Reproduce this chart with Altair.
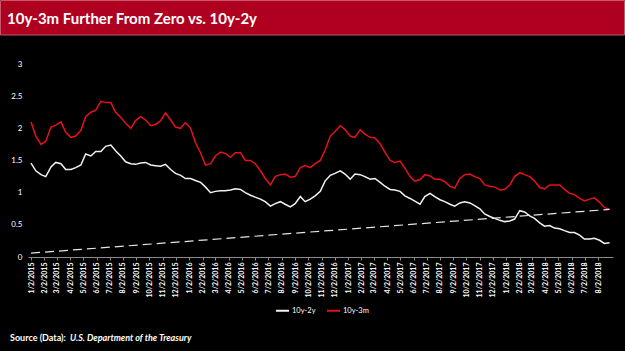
import altair as alt
import pandas as pd

# ---------------- data ----------------
series_names = ["10y-2y", "10y-3m"]

spread_10y2y = [1.46, 1.34, 1.28, 1.25, 1.40, 1.47, 1.45, 1.36, 1.36, 1.39,
                1.43, 1.60, 1.57, 1.64, 1.64, 1.72, 1.74, 1.65, 1.57, 1.48,
                1.45, 1.44, 1.46, 1.47, 1.43, 1.42, 1.41, 1.44, 1.36, 1.30,
                1.27, 1.22, 1.22, 1.19, 1.16, 1.09, 1.00, 1.02, 1.03, 1.03,
                1.04, 1.06, 1.05, 1.00, 0.96, 0.93, 0.90, 0.86, 0.79, 0.83,
                0.86, 0.82, 0.78, 0.83, 0.94, 0.86, 0.90, 0.95, 1.02, 1.18,
                1.27, 1.30, 1.34, 1.29, 1.21, 1.29, 1.28, 1.25, 1.21, 1.22,
                1.16, 1.10, 1.05, 1.04, 1.02, 0.95, 0.91, 0.87, 0.82, 0.94,
                0.99, 0.94, 0.89, 0.86, 0.82, 0.79, 0.84, 0.86, 0.84, 0.80,
                0.75, 0.67, 0.63, 0.60, 0.57, 0.55, 0.56, 0.59, 0.72, 0.70,
                0.64, 0.60, 0.53, 0.48, 0.49, 0.45, 0.44, 0.41, 0.38, 0.38,
                0.34, 0.28, 0.28, 0.29, 0.26, 0.21, 0.22]

spread_10y3m = [2.10, 1.88, 1.75, 1.80, 2.02, 2.05, 2.10, 1.94, 1.86, 1.88,
                1.97, 2.18, 2.25, 2.28, 2.42, 2.40, 2.40, 2.25, 2.17, 2.08,
                2.00, 2.12, 2.18, 2.13, 2.04, 2.06, 2.12, 2.24, 2.13, 2.02,
                2.00, 2.09, 2.00, 1.78, 1.62, 1.43, 1.45, 1.57, 1.63, 1.61,
                1.55, 1.62, 1.62, 1.50, 1.50, 1.45, 1.34, 1.22, 1.12, 1.25,
                1.28, 1.29, 1.24, 1.25, 1.39, 1.42, 1.39, 1.45, 1.50, 1.66,
                1.88, 1.95, 2.04, 1.98, 1.88, 1.86, 1.98, 1.91, 1.86, 1.85,
                1.76, 1.63, 1.50, 1.47, 1.49, 1.38, 1.25, 1.18, 1.20, 1.28,
                1.26, 1.21, 1.21, 1.17, 1.10, 1.07, 1.22, 1.28, 1.29, 1.25,
                1.22, 1.12, 1.10, 1.09, 1.04, 1.05, 1.12, 1.25, 1.31, 1.28,
                1.25, 1.18, 1.08, 1.06, 1.12, 1.12, 1.12, 1.05, 0.99, 0.97,
                0.91, 0.87, 0.90, 0.92, 0.85, 0.77, 0.74]

sample_dates = pd.date_range("2015-01-02", periods=len(spread_10y2y),
                             freq=pd.Timedelta(hours=276)).strftime("%Y-%m-%d").tolist()

trend_dates = ["2015-01-02", sample_dates[-1]]
trend_values = [0.06, 0.74]

tick_labels = [
    "1/2/2015", "2/2/2015", "3/2/2015", "4/2/2015", "5/2/2015", "6/2/2015",
    "7/2/2015", "8/2/2015", "9/2/2015", "10/2/2015", "11/2/2015", "12/2/2015",
    "1/2/2016", "2/2/2016", "3/2/2016", "4/2/2016", "5/2/2016", "6/2/2016",
    "7/2/2016", "8/2/2016", "9/2/2016", "10/2/2016", "11/2/2016", "12/2/2016",
    "1/2/2017", "2/2/2017", "3/2/2017", "4/2/2017", "5/2/2017", "6/2/2017",
    "7/2/2017", "8/2/2017", "9/2/2017", "10/2/2017", "11/2/2017", "12/2/2017",
    "1/2/2018", "2/2/2018", "3/2/2018", "4/2/2018", "5/2/2018", "6/2/2018",
    "7/2/2018", "8/2/2018"]
y_ticks = [0, 0.5, 1, 1.5, 2, 2.5, 3]

title_text = "10y-3m Further From Zero vs. 10y-2y"
source_label = "Source (Data):"
source_name = "U.S. Department of the Treasury"

# ---------------- tables ----------------
def to_ms(s):
    return int(pd.Timestamp(s, tz="UTC").timestamp() * 1000)

tick_values = [to_ms(pd.to_datetime(t, format="%m/%d/%Y").strftime("%Y-%m-%d")) for t in tick_labels]

long_df = pd.concat([
    pd.DataFrame({"date": sample_dates, "value": spread_10y2y, "series": series_names[0]}),
    pd.DataFrame({"date": sample_dates, "value": spread_10y3m, "series": series_names[1]}),
])
trend_df = pd.DataFrame({"date": trend_dates, "value": trend_values})

FONT = "Lato"
PLOT_W, PLOT_H = 585, 193
PAD_L, PAD_T = 28, 64

x_scale = alt.Scale(type="utc", domain=[to_ms("2014-12-26"), to_ms("2018-09-05")])
y_scale = alt.Scale(domain=[0, 3], nice=False)

x_axis = alt.Axis(values=tick_values,
                  labelExpr="utcFormat(datum.value, '%-m/%-d/%Y')",
                  labelAngle=270, labelFontSize=7, labelFontWeight="bold",
                  labelColor="white", labelFont=FONT, labelPadding=2,
                  labelOverlap=False, labelFlush=False, grid=False,
                  domainColor="#8a8a8a", tickColor="#8a8a8a", tickSize=3,
                  title=None)
y_axis = alt.Axis(values=y_ticks, format=".1~f", labelFontSize=8,
                  labelColor="white", labelFont=FONT, labelPadding=6,
                  labelOverlap=False, labelFlush=False,
                  domain=False, ticks=False, grid=False, title=None)

lines = alt.Chart(long_df).mark_line(strokeWidth=1.5).encode(
    x=alt.X("date:T", scale=x_scale, axis=x_axis),
    y=alt.Y("value:Q", scale=y_scale, axis=y_axis),
    color=alt.Color("series:N",
                    scale=alt.Scale(domain=series_names, range=["#f2f2f2", "#e8101a"]),
                    legend=alt.Legend(orient="none", legendX=247, legendY=239,
                                      direction="horizontal", title=None,
                                      symbolType="stroke", symbolSize=169,
                                      symbolStrokeWidth=2, labelColor="white",
                                      labelFontSize=7.5, labelFont=FONT,
                                      labelOffset=2, columnPadding=7)),
)

trend = alt.Chart(trend_df).mark_line(strokeWidth=1.2, strokeDash=[9, 5],
                                      color="#e6e6e6").encode(
    x=alt.X("date:T", scale=x_scale, axis=x_axis),
    y=alt.Y("value:Q", scale=y_scale, axis=y_axis),
)

one = pd.DataFrame({"t": [title_text], "s1": [source_label], "s2": [source_name]})

bar = alt.Chart(one).mark_rect(fill="#b00020", stroke="#c9566a", strokeWidth=1).encode(
    x=alt.value(-PAD_L + 0.5), x2=alt.value(625 - PAD_L - 0.5),
    y=alt.value(-PAD_T + 0.5), y2=alt.value(35 - PAD_T),
)
title = alt.Chart(one).mark_text(align="left", baseline="middle", font=FONT,
                                 fontWeight="bold", fontSize=15, color="white").encode(
    x=alt.value(7 - PAD_L), y=alt.value(19 - PAD_T), text="t:N")
src1 = alt.Chart(one).mark_text(align="left", baseline="middle", font=FONT,
                                fontWeight="bold", fontSize=9, color="white").encode(
    x=alt.value(10 - PAD_L), y=alt.value(338 - PAD_T), text="s1:N")
src2 = alt.Chart(one).mark_text(align="left", baseline="middle", font=FONT,
                                fontWeight="bold", fontStyle="italic", fontSize=9,
                                color="white").encode(
    x=alt.value(70 - PAD_L), y=alt.value(338 - PAD_T), text="s2:N")

chart = alt.layer(lines, trend, bar, title, src1, src2).properties(
    width=PLOT_W, height=PLOT_H,
    autosize=alt.AutoSizeParams(type="none"),
    padding={"left": PAD_L, "top": PAD_T, "right": 625 - PAD_L - PLOT_W,
             "bottom": 351 - PAD_T - PLOT_H},
    background="black",
).configure_view(stroke=None)

chart.save("out.html", embed_options={"renderer": "svg", "actions": False})
